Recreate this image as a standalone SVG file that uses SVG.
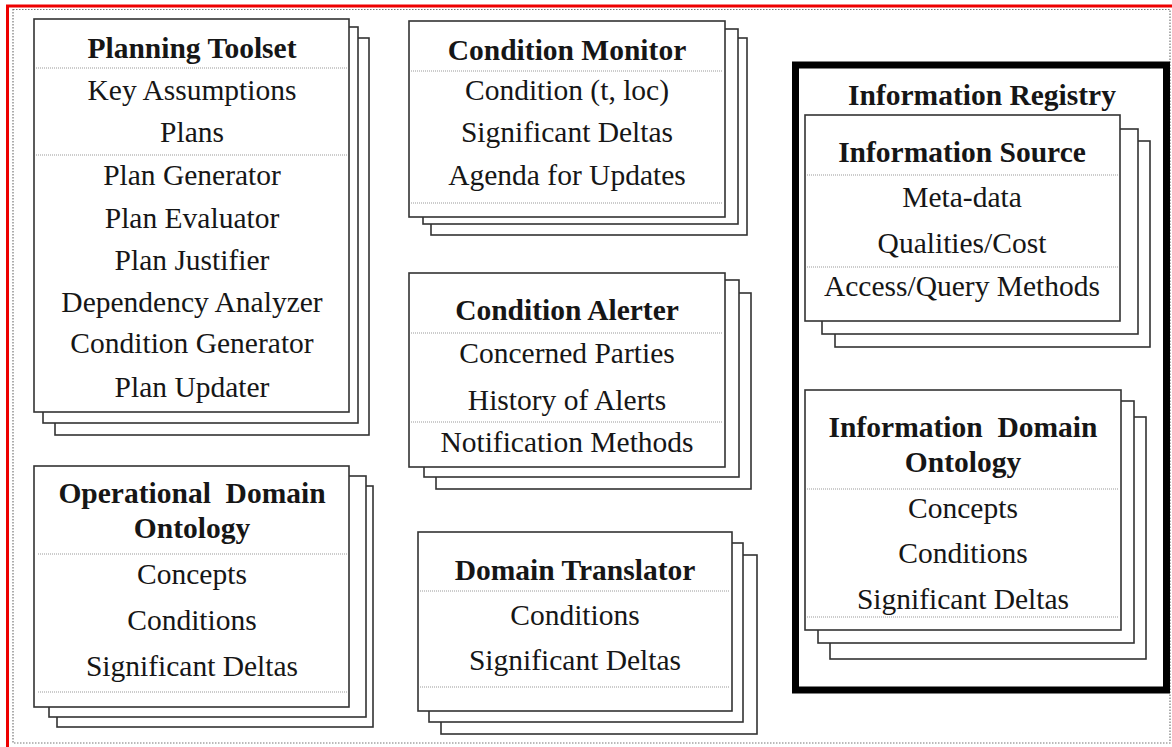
<svg xmlns="http://www.w3.org/2000/svg" width="1172" height="747" viewBox="0 0 1172 747">
<style>
.bg{fill:#fff}
.card{fill:#fff;stroke:#333;stroke-width:1.6}
.div{stroke:#999;stroke-width:1;stroke-dasharray:1 1;fill:none}
.t{font-family:"Liberation Serif","Times New Roman",serif;font-size:29.5px;fill:#161616;text-anchor:middle}
.b{font-weight:bold}
</style>
<rect class="bg" x="0" y="0" width="1172" height="747"/>
<g id="frame">
<rect x="13" y="9.5" width="1157" height="733.5" fill="none" stroke="#777" stroke-width="1.2" stroke-dasharray="1.5 1.5"/>
<line x1="6" y1="6" x2="1172" y2="6" stroke="#e00" stroke-width="3"/>
<line x1="7.5" y1="5" x2="7.5" y2="747" stroke="#e00" stroke-width="3"/>
</g>
<g id="connectors"/>
<g id="planning-toolset">
<rect class="card" x="55" y="38" width="314" height="397"/>
<rect class="card" x="43" y="27" width="315" height="396"/>
<rect class="card" x="34" y="19" width="315" height="393"/>
<line class="div" x1="36" y1="68" x2="347" y2="68"/>
<line class="div" x1="36" y1="155" x2="347" y2="155"/>
<text class="t b" x="192" y="58">Planning Toolset</text>
<text class="t" x="192" y="100">Key Assumptions</text>
<text class="t" x="192" y="142">Plans</text>
<text class="t" x="192" y="185">Plan Generator</text>
<text class="t" x="192" y="228">Plan Evaluator</text>
<text class="t" x="192" y="270">Plan Justifier</text>
<text class="t" x="192" y="312">Dependency Analyzer</text>
<text class="t" x="192" y="353">Condition Generator</text>
<text class="t" x="192" y="397">Plan Updater</text>
</g>
<g id="operational-domain-ontology">
<rect class="card" x="57" y="486" width="316" height="241"/>
<rect class="card" x="49" y="476" width="317" height="241"/>
<rect class="card" x="34" y="466" width="315" height="241"/>
<line class="div" x1="38" y1="554" x2="347" y2="554"/>
<line class="div" x1="38" y1="692" x2="347" y2="692"/>
<text class="t b" x="192" y="503" xml:space="preserve">Operational  Domain</text>
<text class="t b" x="192" y="538">Ontology</text>
<text class="t" x="192" y="584">Concepts</text>
<text class="t" x="192" y="630">Conditions</text>
<text class="t" x="192" y="676">Significant Deltas</text>
</g>
<g id="condition-monitor">
<rect class="card" x="431" y="38" width="316" height="197"/>
<rect class="card" x="423" y="29" width="315" height="195"/>
<rect class="card" x="409" y="21" width="316" height="196"/>
<line class="div" x1="411" y1="71" x2="723" y2="71"/>
<line class="div" x1="411" y1="203" x2="723" y2="203"/>
<text class="t b" x="567" y="60">Condition Monitor</text>
<text class="t" x="567" y="100">Condition (t, loc)</text>
<text class="t" x="567" y="142">Significant Deltas</text>
<text class="t" x="567" y="185">Agenda for Updates</text>
</g>
<g id="condition-alerter">
<rect class="card" x="436" y="293" width="315" height="196"/>
<rect class="card" x="424" y="280" width="315" height="197"/>
<rect class="card" x="409" y="273" width="316" height="194"/>
<line class="div" x1="411" y1="333" x2="723" y2="333"/>
<line class="div" x1="411" y1="422" x2="723" y2="422"/>
<text class="t b" x="567" y="320">Condition Alerter</text>
<text class="t" x="567" y="363">Concerned Parties</text>
<text class="t" x="567" y="410">History of Alerts</text>
<text class="t" x="567" y="452">Notification Methods</text>
</g>
<g id="domain-translator">
<rect class="card" x="441" y="555" width="316" height="179"/>
<rect class="card" x="429" y="543" width="314" height="179"/>
<rect class="card" x="418" y="532" width="314" height="179"/>
<line class="div" x1="420" y1="591" x2="730" y2="591"/>
<line class="div" x1="420" y1="687" x2="730" y2="687"/>
<text class="t b" x="575" y="580">Domain Translator</text>
<text class="t" x="575" y="625">Conditions</text>
<text class="t" x="575" y="670">Significant Deltas</text>
</g>
<g id="information-registry">
<rect x="795.5" y="65" width="371" height="625" fill="#fff" stroke="#000" stroke-width="7"/>
<text class="t b" x="982" y="105">Information Registry</text>
</g>
<g id="information-source">
<rect class="card" x="835" y="141" width="315" height="206"/>
<rect class="card" x="822" y="129" width="316" height="205"/>
<rect class="card" x="805" y="115" width="315" height="206"/>
<line class="div" x1="807" y1="175" x2="1118" y2="175"/>
<line class="div" x1="807" y1="267" x2="1118" y2="267"/>
<text class="t b" x="962" y="162">Information Source</text>
<text class="t" x="962" y="207">Meta-data</text>
<text class="t" x="962" y="253">Qualities/Cost</text>
<text class="t" x="962" y="296">Access/Query Methods</text>
</g>
<g id="information-domain-ontology">
<rect class="card" x="830" y="417" width="316" height="242"/>
<rect class="card" x="818" y="401" width="316" height="242"/>
<rect class="card" x="805" y="390" width="316" height="240"/>
<line class="div" x1="807" y1="489" x2="1119" y2="489"/>
<line class="div" x1="807" y1="617" x2="1119" y2="617"/>
<text class="t b" x="963" y="437" xml:space="preserve">Information  Domain</text>
<text class="t b" x="963" y="472">Ontology</text>
<text class="t" x="963" y="518">Concepts</text>
<text class="t" x="963" y="563">Conditions</text>
<text class="t" x="963" y="609">Significant Deltas</text>
</g>
</svg>
